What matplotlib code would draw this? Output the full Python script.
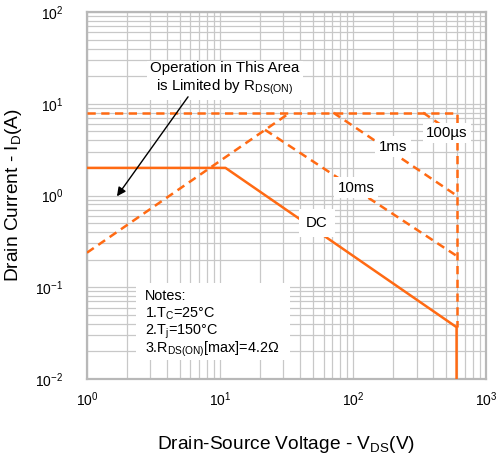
"""Safe operating area chart (drain current vs drain-source voltage)."""
import matplotlib
matplotlib.use('Agg')
import matplotlib.pyplot as plt
from matplotlib.patches import Rectangle
from matplotlib.ticker import LogLocator, NullFormatter

plt.rcParams['font.family'] = ['Liberation Sans', 'DejaVu Sans']
plt.rcParams['mathtext.fontset'] = 'custom'
plt.rcParams['mathtext.rm'] = 'Liberation Sans'
plt.rcParams['mathtext.it'] = 'Liberation Sans:italic'
plt.rcParams['mathtext.default'] = 'regular'
plt.rcParams['axes.unicode_minus'] = False

ORANGE = '#ff6a13'
GRID = '#c8c8c8'

# curves: (V_DS, I_D)
dc_v    = [1, 11, 600, 600]
dc_i    = [2.0, 2.0, 0.0367, 0.01]
rds_v   = [1, 33.6]
rds_i   = [0.238, 8.0]
limit_v = [1, 600, 600]
limit_i = [8.0, 8.0, 0.0367]
us100_v = [336, 600]
us100_i = [8.0, 4.5]
ms1_v   = [71, 600]
ms1_i   = [8.0, 1.0]
ms10_v  = [21.8, 600]
ms10_i  = [5.2, 0.22]

notes = ['Notes:', '1.T$_{C}$=25°C', '2.T$_{j}$=150°C', '3.R$_{DS(ON)}$[max]=4.2Ω']

fig = plt.figure(figsize=(4.97, 4.57), dpi=100)
ax = fig.add_axes([0.175, 0.1707, 0.803, 0.803])
ax.set_xscale('log')
ax.set_yscale('log')
ax.set_xlim(1, 1000)
ax.set_ylim(0.01, 100)

ax.xaxis.set_minor_locator(LogLocator(base=10, subs=range(2, 10)))
ax.yaxis.set_minor_locator(LogLocator(base=10, subs=range(2, 10)))
ax.xaxis.set_minor_formatter(NullFormatter())
ax.yaxis.set_minor_formatter(NullFormatter())
ax.grid(True, which='both', color=GRID, lw=0.9, zorder=0)
ax.tick_params(which='both', length=0, labelsize=10)
ax.tick_params(axis='x', pad=8)
ax.tick_params(axis='y', pad=17)
for s in ax.spines.values():
    s.set_color('#b8b8b8')
    s.set_linewidth(1.6)

dash = dict(color=ORANGE, lw=1.8, ls=(0, (3.3, 2.2)), zorder=3)
ax.plot(limit_v, limit_i, **dash)
ax.plot(rds_v, rds_i, **dash)
ax.plot(us100_v, us100_i, **dash)
ax.plot(ms1_v, ms1_i, **dash)
ax.plot(ms10_v, ms10_i, **dash)
ax.plot(dc_v, dc_i, color=ORANGE, lw=1.8, zorder=4)

box = dict(facecolor='white', edgecolor='none', pad=2.5)
ax.text(509, 4.8, '100µs', fontsize=10.8, ha='center', va='center', bbox=box, zorder=5)
ax.text(200, 3.4, '1ms', fontsize=10.8, ha='center', va='center', bbox=box, zorder=5)
ax.text(105, 1.21, '10ms', fontsize=10.8, ha='center', va='center', bbox=box, zorder=5)
ax.text(53.6, 0.50, 'DC', fontsize=10.8, ha='center', va='center',
        bbox=dict(facecolor='white', edgecolor='none', pad=5), zorder=5)

ax.text(10.9, 18.6, 'Operation in This Area\nis Limited by R$_{DS(ON)}$',
        fontsize=10.8, ha='center', va='center', linespacing=1.2, bbox=box, zorder=6)
ax.annotate('', xy=(1.68, 0.98), xytext=(5.75, 11.9), zorder=6,
            arrowprops=dict(arrowstyle='-|>', color='black', lw=1, shrinkA=0, shrinkB=0,
                            mutation_scale=13))

# notes box, one line per text so the spacing stays even
ax.add_patch(Rectangle((2.34, 0.0161), 33.6 - 2.34, 0.111 - 0.0161,
                       facecolor='white', edgecolor='none', zorder=5))
for txt, yy in zip(notes, [0.0726, 0.0462, 0.0302, 0.0192]):
    ax.text(2.73, yy, txt, fontsize=10.4, ha='left', va='baseline', zorder=6)

ax.set_xlabel('Drain-Source Voltage - V$_{DS}$(V)', fontsize=13.8, labelpad=18)
ax.set_ylabel('Drain Current - I$_{D}$(A)', fontsize=13.8, labelpad=8)

fig.savefig('out.png', dpi=100)
